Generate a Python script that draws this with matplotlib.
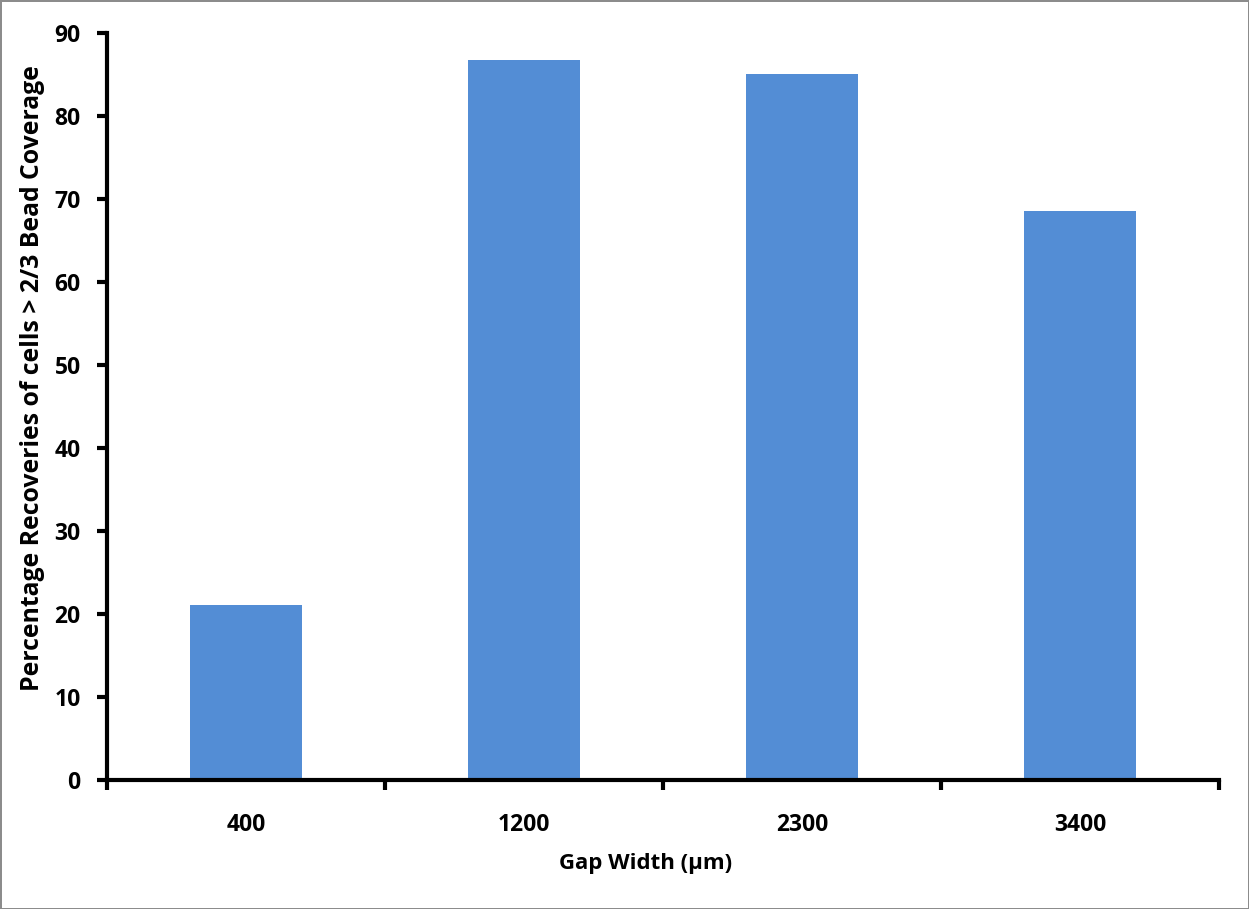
import matplotlib
matplotlib.use("Agg")
import matplotlib.pyplot as plt
import numpy as np

categories = ["400", "1200", "2300", "3400"]
values = [21.1, 86.8, 85.1, 68.6]
yticks = [0, 10, 20, 30, 40, 50, 60, 70, 80, 90]

plt.rcParams['font.family'] = ['Open Sans', 'DejaVu Sans']
plt.rcParams['font.weight'] = 'bold'

W, H = 1249, 909
fig = plt.figure(figsize=(W / 100, H / 100), dpi=100)
fig.patch.set_edgecolor('#8c8c8c')
fig.patch.set_linewidth(2)
ax = fig.add_axes([107 / W, 1 - 780 / H, (1219 - 107) / W, (780 - 33) / H])

x = np.arange(len(categories))
ax.bar(x, values, width=0.40, color='#538DD5', zorder=2)

ax.set_xlim(-0.5, len(categories) - 0.5)
ax.set_ylim(0, 90)
ax.set_yticks(yticks)
ax.set_yticklabels([str(v) for v in yticks], fontsize=16.5, fontweight='bold')
ax.set_xticks(x)
ax.set_xticklabels(categories, fontsize=16.5, fontweight='bold')
ax.set_xticks(np.arange(-0.5, len(categories), 1.0), minor=True)
ax.tick_params(axis='x', which='major', length=0, pad=24)
ax.tick_params(axis='x', which='minor', length=7, width=3, direction='out')
ax.tick_params(axis='y', which='major', length=7, width=3, direction='out', pad=12)

for s in ['top', 'right']:
    ax.spines[s].set_visible(False)
for s in ['left', 'bottom']:
    ax.spines[s].set_linewidth(3)

fig.text(646 / W, 1 - 864 / H, "Gap Width (µm)", fontsize=16, fontweight='bold',
         ha='center', va='center')
fig.text(33 / W, 1 - 378 / H, "Percentage Recoveries of cells > 2/3 Bead Coverage",
         fontsize=17.8, fontweight='bold', rotation=90, ha='center', va='center')

fig.savefig("out.png", dpi=100, edgecolor=fig.get_edgecolor())
